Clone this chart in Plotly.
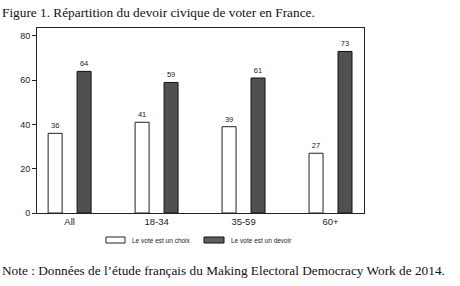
import plotly.graph_objects as go

categories = ["All", "18-34", "35-59", "60+"]
choix = [36, 41, 39, 27]
devoir = [64, 59, 61, 73]
series_names = ["Le vote est un choix", "Le vote est un devoir"]
title_text = "Figure 1. Répartition du devoir civique de voter en France."
note_text = "Note : Données de l\u2019étude français du Making Electoral Democracy Work de 2014."

xi = list(range(len(categories)))
fig = go.Figure()
fig.add_trace(go.Bar(x=xi, y=choix, name=series_names[0], width=0.161, offset=-0.247,
                     marker=dict(color="white", line=dict(color="#222", width=1)),
                     text=[str(v) for v in choix], textposition="outside",
                     textfont=dict(family="Liberation Sans", size=7.5, color="#222"),
                     cliponaxis=False, showlegend=False))
fig.add_trace(go.Bar(x=xi, y=devoir, name=series_names[1], width=0.161, offset=0.086,
                     marker=dict(color="#505050", line=dict(color="#111", width=1)),
                     text=[str(v) for v in devoir], textposition="outside",
                     textfont=dict(family="Liberation Sans", size=7.5, color="#222"),
                     cliponaxis=False, showlegend=False))

fig.update_layout(
    width=460, height=286,
    margin=dict(l=37, r=96, t=28, b=73),
    paper_bgcolor="white", plot_bgcolor="white",
    font=dict(family="Liberation Sans", size=9, color="#222"),
    xaxis=dict(range=[-0.375, 3.385], tickvals=xi, ticktext=categories, showgrid=False,
               zeroline=False, showline=True, linecolor="#222", linewidth=1, mirror=True,
               ticks="", tickfont=dict(size=9.5)),
    yaxis=dict(range=[0, 83.6], tickvals=[0, 20, 40, 60, 80], showgrid=False, zeroline=False,
               showline=True, linecolor="#222", linewidth=1, mirror=True,
               ticks="outside", ticklen=4, tickcolor="#222", tickfont=dict(size=9)),
    uniformtext=dict(minsize=6, mode="show"),
)

# title and note
fig.add_annotation(text=title_text, xref="paper", yref="paper", x=-37/327, y=1 + 16/185,
                   xanchor="left", yanchor="middle", showarrow=False,
                   font=dict(family="Liberation Serif", size=13.3, color="#111"))
fig.add_annotation(text=note_text, xref="paper", yref="paper", x=-37/327, y=-57/185,
                   xanchor="left", yanchor="middle", showarrow=False,
                   font=dict(family="Liberation Serif", size=13.3, color="#111"))

# legend
def px_x(p):
    return (p - 37) / 327
def px_y(p):
    return (213 - p) / 185

legend_items = [(106, 125, 130, "white", "#222"), (204, 224, 229, "#606060", "#111")]
for (x0, x1, tx, fill, line), name in zip(legend_items, series_names):
    fig.add_shape(type="rect", xref="paper", yref="paper", x0=px_x(x0), x1=px_x(x1),
                  y0=px_y(243), y1=px_y(237), fillcolor=fill, line=dict(color=line, width=1))
    fig.add_annotation(text=name, xref="paper", yref="paper", x=px_x(tx), y=px_y(240),
                       xanchor="left", yanchor="middle", showarrow=False,
                       font=dict(family="Liberation Sans", size=6.5, color="#222"))

fig.write_html("out.html")
